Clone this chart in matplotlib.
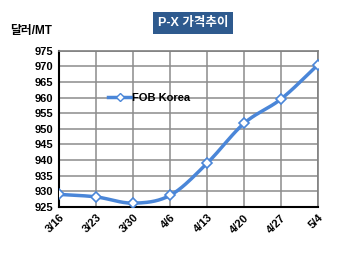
import matplotlib.pyplot as plt
import numpy as np

plt.rcParams['font.family'] = ['Liberation Sans', 'Noto Sans CJK KR', 'DejaVu Sans']

dates = ["3/16", "3/23", "3/30", "4/6", "4/13", "4/20", "4/27", "5/4"]
fob_korea = [929.0, 928.2, 926.2, 928.7, 939.0, 951.8, 959.6, 970.6]
yticks = [925, 930, 935, 940, 945, 950, 955, 960, 965, 970, 975]

blue = "#4A86D8"


def smooth(x, y, n=20):
    # catmull-rom, like excel's smoothed line
    x = np.asarray(x, float)
    y = np.asarray(y, float)
    px = np.concatenate([[2 * x[0] - x[1]], x, [2 * x[-1] - x[-2]]])
    py = np.concatenate([[2 * y[0] - y[1]], y, [2 * y[-1] - y[-2]]])
    xs, ys = [], []
    t = np.linspace(0, 1, n)
    for i in range(1, len(px) - 2):
        for p, out in ((px, xs), (py, ys)):
            p0, p1, p2, p3 = p[i - 1], p[i], p[i + 1], p[i + 2]
            out.extend(0.5 * ((2 * p1) + (-p0 + p2) * t
                              + (2 * p0 - 5 * p1 + 4 * p2 - p3) * t ** 2
                              + (-p0 + 3 * p1 - 3 * p2 + p3) * t ** 3))
    return xs, ys


fig = plt.figure(figsize=(3.5, 2.57), dpi=100)
ax = fig.add_axes([0.169, 0.195, 0.74, 0.607])

x = np.arange(len(dates))
sx, sy = smooth(x, fob_korea)
ax.plot(sx, sy, color=blue, lw=2.5, zorder=3)
ax.plot(x, fob_korea, ls="none", marker="D", ms=5, mfc="white", mec=blue,
        mew=1.2, zorder=4)
ax.plot([], [], color=blue, lw=2.5, marker="D", ms=4, mfc="white", mec=blue,
        label="FOB Korea")

ax.set_xlim(0, len(dates) - 1)
ax.set_ylim(925, 975)
ax.set_yticks(yticks)
ax.set_xticks(x)
ax.set_xticklabels(dates, rotation=45, ha="right", rotation_mode="anchor")
ax.tick_params(labelsize=8, length=0, pad=4)
for lab in ax.get_xticklabels() + ax.get_yticklabels():
    lab.set_fontweight("bold")

ax.grid(True, color="#8C8C8C", lw=1.1)
ax.set_axisbelow(True)
for s in ["top", "right"]:
    ax.spines[s].set_color("#7F7F7F")
    ax.spines[s].set_linewidth(1.2)
ax.spines["left"].set_linewidth(1.5)
ax.spines["bottom"].set_linewidth(1.5)

leg = ax.legend(loc="upper left", bbox_to_anchor=(0.17, 0.76), frameon=False,
                fontsize=8, handlelength=2.2, handletextpad=0.0,
                borderaxespad=0)
for t in leg.get_texts():
    t.set_fontweight("bold")

fig.text(0.551, 0.91, "P-X 가격추이", ha="center", va="center", color="white",
         fontsize=9, fontweight="bold",
         bbox=dict(boxstyle="square,pad=0.4", fc="#2E5A8E", ec="none"))
fig.text(0.03, 0.88, "달러/MT", ha="left", va="center", fontsize=8.5,
         fontweight="bold")

fig.savefig("out.png", dpi=100)
